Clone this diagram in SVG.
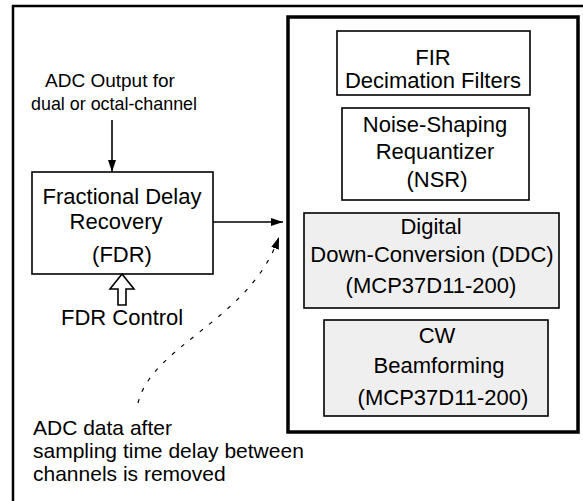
<svg xmlns="http://www.w3.org/2000/svg" width="583" height="501" viewBox="0 0 583 501">
<defs>
<style>
text{font-family:"Liberation Sans",Arial,sans-serif;font-size:22px;fill:#000}
.c{text-anchor:middle}
.t{font-size:19px}
.b{font-size:21px}
.box{fill:#fff;stroke:#000;stroke-width:1.6}
.gray{fill:#efefef;stroke:#000;stroke-width:1.6}
.ln{fill:none;stroke:#000;stroke-width:1.6}
</style>
<marker id="ah" viewBox="0 0 12 8" refX="12" refY="4" markerWidth="12" markerHeight="8" markerUnits="userSpaceOnUse" orient="auto">
<path d="M0,0 L12,4 L0,8 Z" fill="#000"/>
</marker>
</defs>
<rect width="583" height="501" fill="#fff"/>
<path d="M13,501 V6 H583" fill="none" stroke="#000" stroke-width="2.5"/>
<g id="block">
<rect x="288" y="17" width="290" height="415" fill="#fff" stroke="#000" stroke-width="3.5"/>
</g>
<g id="fir">
<rect class="box" x="337" y="31" width="193" height="64"/>
<text class="c" x="433" y="65">FIR</text>
<text class="c" x="433" y="88">Decimation Filters</text>
</g>
<g id="nsr">
<rect class="box" x="342" y="108" width="187" height="92"/>
<text class="c" x="435" y="132">Noise-Shaping</text>
<text class="c" x="435" y="159">Requantizer</text>
<text class="c" x="437" y="187">(NSR)</text>
</g>
<g id="ddc">
<rect class="gray" x="304" y="213" width="255" height="95"/>
<text class="c" x="431" y="234">Digital</text>
<text class="c" x="432" y="262">Down-Conversion (DDC)</text>
<text class="c" x="431" y="293">(MCP37D11-200)</text>
</g>
<g id="cw">
<rect class="gray" x="324" y="320" width="224" height="96"/>
<text class="c" x="437" y="343">CW</text>
<text class="c" x="439" y="373">Beamforming</text>
<text class="c" x="443" y="405">(MCP37D11-200)</text>
</g>
<g id="fdr">
<rect class="box" x="32" y="172" width="181" height="102"/>
<text class="c" x="122" y="204">Fractional Delay</text>
<text class="c" x="116" y="229">Recovery</text>
<text class="c" x="122" y="262">(FDR)</text>
</g>
<g id="labels">
<text class="t" x="45" y="87">ADC Output for</text>
<text class="t" x="31" y="110" textLength="166" lengthAdjust="spacingAndGlyphs">dual or octal-channel</text>
<text x="61" y="325">FDR Control</text>
<text class="b" x="33" y="435">ADC data after</text>
<text class="b" x="33" y="458">sampling time delay between</text>
<text class="b" x="33" y="481">channels is removed</text>
</g>
<g id="connectors">
<line class="ln" x1="112" y1="120" x2="112" y2="172" marker-end="url(#ah)"/>
<line class="ln" x1="213" y1="222" x2="283" y2="222" marker-end="url(#ah)"/>
<path d="M138,403 C152,345 250,320 279,237" fill="none" stroke="#000" stroke-width="1.2" stroke-dasharray="4 8" marker-end="url(#ah)"/>
<path d="M122,274 L134,289 H126 V305 H118 V289 H110 Z" fill="#fff" stroke="#000" stroke-width="1.6"/>
</g>
</svg>
